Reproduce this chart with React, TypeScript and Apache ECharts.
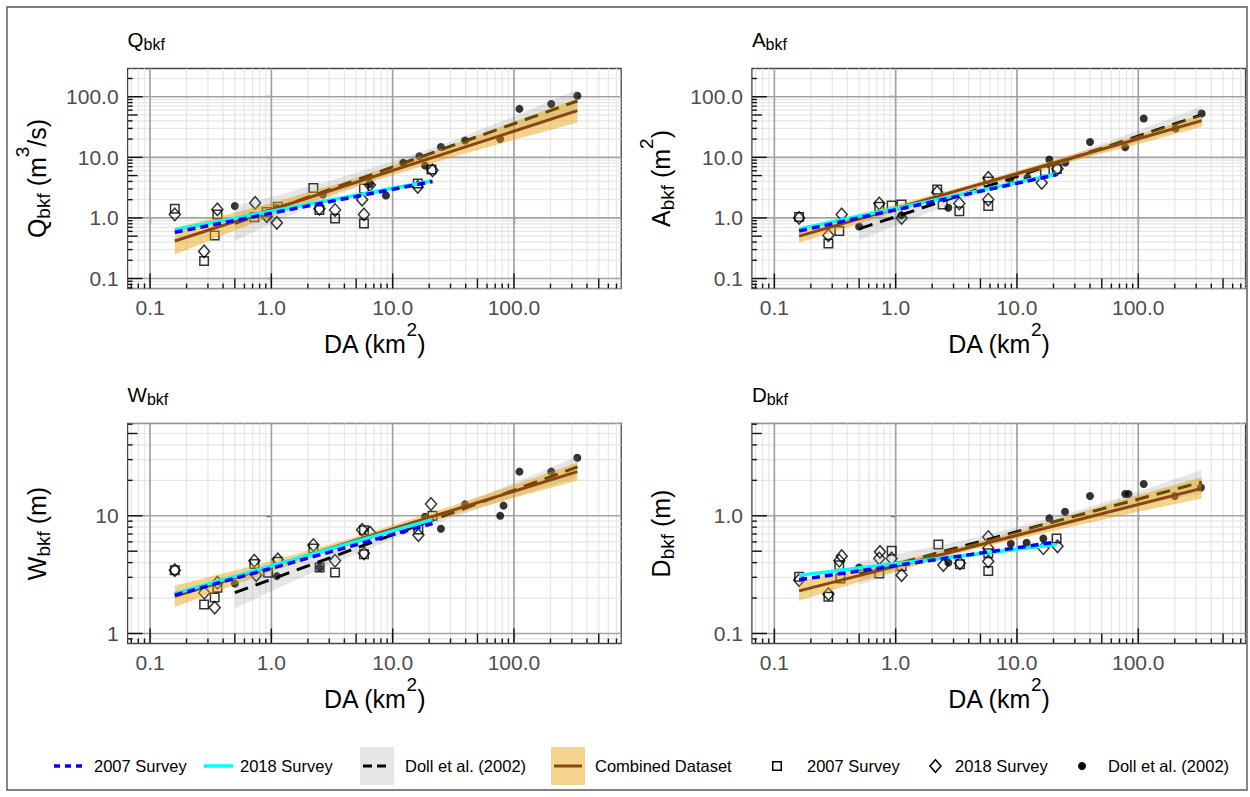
import React, { useEffect, useRef } from 'react';
import * as echarts from 'echarts';

const FONT = '"Liberation Sans", Arial, Helvetica, sans-serif';

// ---------------- axis limits & tick labels ----------------
const DA_LIMITS = [0.0653, 765.6];
const DA_TICKS = [0.1, 1, 10, 100];
const DA_TICK_LABELS = ['0.1', '1.0', '10.0', '100.0'];

const QA_LIMITS = [0.0684, 292.4];
const QA_TICKS = [0.1, 1, 10, 100];
const QA_TICK_LABELS = ['0.1', '1.0', '10.0', '100.0'];
const W_LIMITS = [0.822, 60.8];
const W_TICKS = [1, 10];
const W_TICK_LABELS = ['1', '10'];
const D_LIMITS = [0.0822, 6.08];
const D_TICKS = [0.1, 1];
const D_TICK_LABELS = ['0.1', '1.0'];

// ---------------- Q_bkf ----------------
const Q_2007 = [[0.16, 1.42], [0.279, 0.195], [0.341, 0.515], [0.359, 1.14], [0.724, 1.03], [0.916, 1.25], [1.13, 1.53], [2.22, 3.13], [2.49, 1.35], [3.35, 0.98], [5.8, 0.81], [5.8, 3.05], [16.1, 3.69], [20.9, 6.27]];
const Q_2018 = [[0.16, 1.14], [0.279, 0.28], [0.359, 1.38], [0.735, 1.77], [0.916, 1.07], [1.11, 0.83], [2.49, 1.41], [3.35, 1.35], [5.6, 2.0], [5.8, 1.14], [6.5, 3.5], [16.1, 3.25], [21.3, 6.1]];
const Q_DOLL = [[0.5, 1.57], [1.11, 1.45], [2.66, 2.43], [6.5, 3.6], [8.8, 2.34], [12.2, 8.1], [16.6, 10.4], [18.5, 7.3], [25, 14.8], [39.5, 19], [77, 20], [111, 63], [203, 76], [333, 104]];
const Q_FIT_2007 = [[0.16, 0.58], [21.3, 4.0]];
const Q_FIT_2018 = [[0.16, 0.64], [21.3, 4.1]];
const Q_FIT_DOLL = [[0.5, 0.81], [333, 85]];
const Q_FIT_ALL = [[0.16, 0.416], [333, 58.9]];
const Q_BAND_DOLL = [[0.5, 0.417, 1.585], [1, 0.8, 2.21], [3, 2.12, 4.05], [10, 5.62, 8.51], [30, 12.6, 18.3], [100, 27.3, 47.4], [333, 55, 132]];
const Q_BAND_ALL = [[0.16, 0.25, 0.69], [0.5, 0.62, 1.23], [1, 1.06, 1.76], [4, 2.85, 3.94], [10, 5.05, 7.3], [30, 9.8, 15.8], [100, 19.5, 38.5], [333, 37.1, 93.1]];

// ---------------- A_bkf ----------------
const A_2007 = [[0.16, 1.04], [0.279, 0.38], [0.343, 0.61], [0.733, 1.53], [0.927, 1.6], [1.12, 1.67], [2.2, 2.94], [2.44, 1.67], [3.35, 1.29], [5.8, 1.57], [5.8, 4.0], [17, 5.9], [21.3, 6.4]];
const A_2018 = [[0.16, 1.0], [0.279, 0.515], [0.359, 1.14], [0.733, 1.73], [1.12, 1.0], [2.2, 2.66], [3.35, 1.73], [5.8, 4.57], [5.8, 2.01], [16, 3.79], [21.6, 6.5]];
const A_DOLL = [[0.5, 0.72], [1.11, 1.1], [2.72, 1.47], [8.8, 4.3], [12.2, 4.6], [18.5, 9.2], [25, 8.2], [40, 17.9], [78, 14.7], [111, 43.6], [203, 30], [333, 53]];
const A_FIT_2007 = [[0.16, 0.61], [21.3, 5.18]];
const A_FIT_2018 = [[0.16, 0.66], [21.3, 5.3]];
const A_FIT_DOLL = [[0.5, 0.66], [333, 50]];
const A_FIT_ALL = [[0.16, 0.5], [333, 40.4]];
const A_BAND_DOLL = [[0.5, 0.43, 1.03], [1, 0.745, 1.49], [3, 1.77, 2.69], [10, 4.24, 5.58], [30, 8.79, 11.6], [100, 18.3, 27.7], [333, 36.3, 69.2]];
const A_BAND_ALL = [[0.16, 0.39, 0.647], [0.5, 0.8, 1.16], [1, 1.25, 1.65], [4, 2.9, 3.49], [10, 4.86, 5.98], [30, 8.91, 11.5], [100, 16.4, 23.2], [333, 32.1, 50.8]];

// ---------------- W_bkf ----------------
const W_2007 = [[0.16, 3.45], [0.279, 1.76], [0.341, 2.02], [0.359, 2.45], [0.724, 3.9], [0.94, 3.28], [1.13, 4.07], [2.22, 5.27], [2.5, 3.64], [3.35, 3.3], [5.8, 7.55], [5.8, 4.72], [16.3, 7.65], [21.3, 10.0]];
const W_2018 = [[0.16, 3.45], [0.28, 2.22], [0.341, 1.66], [0.359, 2.7], [0.724, 4.15], [0.75, 3.13], [1.13, 4.26], [2.22, 5.64], [3.35, 4.15], [5.6, 7.6], [5.8, 4.8], [6.5, 7.2], [16.3, 6.85], [20.7, 12.6]];
const W_DOLL = [[0.5, 2.66], [1.11, 3.07], [2.5, 3.64], [12.2, 7.55], [18.5, 9.8], [25, 7.76], [39.5, 12.5], [77, 10], [82, 12.2], [111, 23.7], [203, 23.7], [333, 31.1]];
const W_FIT_2007 = [[0.16, 2.12], [21.3, 8.6]];
const W_FIT_2018 = [[0.16, 2.18], [21.3, 9.3]];
const W_FIT_DOLL = [[0.5, 2.22], [333, 26]];
const W_FIT_ALL = [[0.16, 2.07], [333, 23.7]];
const W_BAND_DOLL = [[0.5, 1.63, 3.03], [1, 2.29, 3.63], [3, 3.81, 5.02], [10, 6.31, 7.59], [30, 9.55, 11.5], [100, 14.4, 19.0], [333, 21.2, 32.1]];
const W_BAND_ALL = [[0.16, 1.68, 2.56], [0.5, 2.6, 3.43], [1, 3.36, 4.13], [4, 5.43, 6.18], [10, 7.23, 8.3], [30, 10.0, 12.05], [100, 14.2, 18.3], [333, 19.8, 28.3]];

// ---------------- D_bkf ----------------
const D_2007 = [[0.16, 0.303], [0.279, 0.205], [0.343, 0.38], [0.35, 0.293], [0.733, 0.324], [0.927, 0.504], [1.12, 0.373], [2.25, 0.57], [3.39, 0.388], [5.8, 0.34], [5.8, 0.48], [21.2, 0.64]];
const D_2018 = [[0.16, 0.284], [0.279, 0.216], [0.343, 0.415], [0.359, 0.454], [0.743, 0.494], [0.733, 0.434], [0.927, 0.434], [1.12, 0.313], [2.47, 0.381], [3.39, 0.395], [5.8, 0.66], [5.8, 0.53], [5.8, 0.41], [16.5, 0.53], [21.6, 0.55]];
const D_DOLL = [[0.5, 0.363], [2.72, 0.4], [8.9, 0.58], [12, 0.59], [16.5, 0.64], [18.5, 0.95], [24.9, 1.08], [40, 1.47], [78, 1.53], [83, 1.53], [111, 1.86], [200, 1.47], [328, 1.74]];
const D_FIT_2007 = [[0.16, 0.286], [21.3, 0.6]];
const D_FIT_2018 = [[0.16, 0.313], [21.3, 0.57]];
const D_FIT_DOLL = [[0.5, 0.32], [333, 1.93]];
const D_FIT_ALL = [[0.16, 0.23], [333, 1.71]];
const D_BAND_DOLL = [[0.5, 0.257, 0.407], [1, 0.331, 0.468], [3, 0.483, 0.594], [10, 0.69, 0.8], [30, 0.93, 1.09], [100, 1.22, 1.6], [333, 1.55, 2.45]];
const D_BAND_ALL = [[0.16, 0.19, 0.281], [0.5, 0.274, 0.353], [1, 0.34, 0.409], [4, 0.506, 0.57], [10, 0.633, 0.74], [30, 0.82, 1.04], [100, 1.08, 1.5], [333, 1.40, 2.12]];

// ---------------- legend labels ----------------
const LEGEND_LINES = ['2007 Survey', '2018 Survey', 'Doll et al. (2002)', 'Combined Dataset'];
const LEGEND_POINTS = ['2007 Survey', '2018 Survey', 'Doll et al. (2002)'];

// ---------------- style ----------------
const C_2007 = '#0000FF';
const C_2018 = '#00FFFF';
const C_DOLL = '#000000';
const C_ALL = '#8B4513';
const F_DOLL = 'rgba(128,128,128,0.2)';
const F_ALL = 'rgba(230,159,0,0.45)';
const GRID_W = 493.6;
const GRID_H = 220;

const PANELS = [
  { t: 'Q', yName: '{a|Q}{s|bkf}{a| (m}{p|3}{a|/s)}', limits: QA_LIMITS, ticks: QA_TICKS, labels: QA_TICK_LABELS, s07: Q_2007, s18: Q_2018, doll: Q_DOLL, f07: Q_FIT_2007, f18: Q_FIT_2018, fDoll: Q_FIT_DOLL, fAll: Q_FIT_ALL, bDoll: Q_BAND_DOLL, bAll: Q_BAND_ALL, left: 127.6, top: 68.5 },
  { t: 'A', yName: '{a|A}{s|bkf}{a| (m}{p|2}{a|)}', limits: QA_LIMITS, ticks: QA_TICKS, labels: QA_TICK_LABELS, s07: A_2007, s18: A_2018, doll: A_DOLL, f07: A_FIT_2007, f18: A_FIT_2018, fDoll: A_FIT_DOLL, fAll: A_FIT_ALL, bDoll: A_BAND_DOLL, bAll: A_BAND_ALL, left: 751.9, top: 68.5 },
  { t: 'W', yName: '{a|W}{s|bkf}{a| (m)}', limits: W_LIMITS, ticks: W_TICKS, labels: W_TICK_LABELS, s07: W_2007, s18: W_2018, doll: W_DOLL, f07: W_FIT_2007, f18: W_FIT_2018, fDoll: W_FIT_DOLL, fAll: W_FIT_ALL, bDoll: W_BAND_DOLL, bAll: W_BAND_ALL, left: 127.6, top: 423.5 },
  { t: 'D', yName: '{a|D}{s|bkf}{a| (m)}', limits: D_LIMITS, ticks: D_TICKS, labels: D_TICK_LABELS, s07: D_2007, s18: D_2018, doll: D_DOLL, f07: D_FIT_2007, f18: D_FIT_2018, fDoll: D_FIT_DOLL, fAll: D_FIT_ALL, bDoll: D_BAND_DOLL, bAll: D_BAND_ALL, left: 751.9, top: 423.5 },
];

const L = (v: number) => Math.log10(v);

function logGrid(limits: number[]) {
  const lo = L(limits[0]);
  const hi = L(limits[1]);
  const out: { v: number; m: number }[] = [];
  for (let e = Math.floor(lo); e <= Math.ceil(hi); e++) {
    for (let m = 1; m <= 9; m++) {
      const v = e + L(m);
      if (v >= lo && v <= hi) out.push({ v, m });
    }
  }
  return out;
}

const tickLen = (m: number) => (m === 1 ? 15 : m === 5 ? 10 : 5);

const fmt = (ticks: number[], labels: string[]) => (v: number) => {
  const i = ticks.findIndex((t) => Math.abs(L(t) - v) < 1e-6);
  return i >= 0 ? labels[i] : '';
};

const nameRich = {
  a: { fontSize: 25, lineHeight: 48, fontFamily: FONT, fontWeight: 'normal', color: '#000' },
  s: { fontSize: 19, lineHeight: 20, verticalAlign: 'bottom', padding: [0, 0, 8, 0], fontFamily: FONT, fontWeight: 'normal', color: '#000' },
  p: { fontSize: 19, lineHeight: 20, verticalAlign: 'top', fontFamily: FONT, fontWeight: 'normal', color: '#000' },
};

const titleRich = {
  a: { fontSize: 20.5, lineHeight: 26, fontFamily: FONT, fontWeight: 'normal', color: '#000' },
  s: { fontSize: 16, lineHeight: 14, verticalAlign: 'bottom', fontFamily: FONT, fontWeight: 'normal', color: '#000' },
};

function decoSeries(i: number, items: number[][], xRef: number, yRef: number, z: number, isTicks: boolean) {
  return {
    type: 'custom',
    xAxisIndex: i,
    yAxisIndex: i,
    z,
    silent: true,
    clip: false,
    data: items,
    renderItem: (params: any, api: any) => {
      const cs = params.coordSys;
      const v = api.value(0);
      const o = api.value(1);
      const k = api.value(2);
      if (isTicks) {
        const st = { stroke: '#111', lineWidth: 1.4 };
        if (o === 0) {
          const x = api.coord([v, yRef])[0];
          const yb = cs.y + cs.height;
          return { type: 'line', shape: { x1: x, y1: yb, x2: x, y2: yb - k }, style: st };
        }
        const y = api.coord([xRef, v])[1];
        return { type: 'line', shape: { x1: cs.x, y1: y, x2: cs.x + k, y2: y }, style: st };
      }
      const style = k === 1 ? { stroke: '#A3A3A3', lineWidth: 1.7 } : { stroke: '#E6E6E6', lineWidth: 1.2 };
      if (o === 0) {
        const x = api.coord([v, yRef])[0];
        return { type: 'line', shape: { x1: x, y1: cs.y, x2: x, y2: cs.y + cs.height }, style };
      }
      const y = api.coord([xRef, v])[1];
      return { type: 'line', shape: { x1: cs.x, y1: y, x2: cs.x + cs.width, y2: y }, style };
    },
  };
}

function bandSeries(i: number, band: number[][], fill: string, z: number) {
  return {
    type: 'custom',
    xAxisIndex: i,
    yAxisIndex: i,
    z,
    silent: true,
    data: [[L(band[0][0]), L(band[0][1])]],
    renderItem: (_p: any, api: any) => {
      const upper = band.map((r) => api.coord([L(r[0]), L(r[2])]));
      const lower = band.map((r) => api.coord([L(r[0]), L(r[1])])).reverse();
      return { type: 'polygon', shape: { points: upper.concat(lower) }, style: { fill } };
    },
  };
}

const toLog = (arr: number[][]) => arr.map((r) => [L(r[0]), L(r[1])]);

function lineSeries(i: number, pts: number[][], color: string, width: number, dash: any, z: number) {
  return {
    type: 'line',
    xAxisIndex: i,
    yAxisIndex: i,
    z,
    silent: true,
    symbol: 'none',
    data: toLog(pts),
    lineStyle: { color, width, type: dash, cap: 'butt' },
  };
}

function scatterSeries(i: number, pts: number[][], kind: number) {
  const base: any = { type: 'scatter', xAxisIndex: i, yAxisIndex: i, z: 2, silent: true, data: toLog(pts) };
  if (kind === 0) {
    base.symbol = 'rect';
    base.symbolSize = 8.5;
    base.itemStyle = { color: 'rgba(0,0,0,0)', borderColor: '#000', borderWidth: 1.5 };
  } else if (kind === 1) {
    base.symbol = 'diamond';
    base.symbolSize = [11, 12.5];
    base.itemStyle = { color: 'rgba(0,0,0,0)', borderColor: '#000', borderWidth: 1.5 };
  } else {
    base.symbol = 'circle';
    base.symbolSize = 8;
    base.itemStyle = { color: '#000' };
  }
  return base;
}

function buildOption() {
  const grids: any[] = [];
  const xAxes: any[] = [];
  const yAxes: any[] = [];
  const series: any[] = [];
  const titles: any[] = [];
  const xr = [L(DA_LIMITS[0]), L(DA_LIMITS[1])];
  PANELS.forEach((p, i) => {
    const yr = [L(p.limits[0]), L(p.limits[1])];
    grids.push({ left: p.left, top: p.top, width: GRID_W, height: GRID_H, show: true, backgroundColor: '#fff', borderColor: '#444', borderWidth: 1.3 });
    xAxes.push({
      type: 'value', gridIndex: i, min: xr[0], max: xr[1],
      axisLine: { show: false }, splitLine: { show: false },
      axisTick: { show: true, customValues: DA_TICKS.map(L), length: 5, lineStyle: { color: '#333', width: 1.3 } },
      axisLabel: { customValues: DA_TICKS.map(L), formatter: fmt(DA_TICKS, DA_TICK_LABELS), fontSize: 21, color: '#4D4D4D', fontFamily: FONT, margin: 8 },
      name: '{a|DA (km}{p|2}{a|)}', nameLocation: 'middle', nameGap: 31, nameTextStyle: { rich: nameRich },
    });
    yAxes.push({
      type: 'value', gridIndex: i, min: yr[0], max: yr[1],
      axisLine: { show: false }, splitLine: { show: false },
      axisTick: { show: true, customValues: p.ticks.map(L), length: 5, lineStyle: { color: '#333', width: 1.3 } },
      axisLabel: { customValues: p.ticks.map(L), formatter: fmt(p.ticks, p.labels), fontSize: 21, color: '#4D4D4D', fontFamily: FONT, margin: 9 },
      name: p.yName, nameLocation: 'middle', nameRotate: 90, nameGap: 67, nameTextStyle: { rich: nameRich },
    });
    titles.push({ text: '{a|' + p.t + '}{s|bkf}', left: p.left, top: p.top - 42.5, padding: 0, textStyle: { fontWeight: 'normal', rich: titleRich } });

    const xRef = (xr[0] + xr[1]) / 2;
    const yRef = (yr[0] + yr[1]) / 2;
    const gx = logGrid(DA_LIMITS);
    const gy = logGrid(p.limits);
    const gridItems = [
      ...gx.filter((g) => g.m !== 1).map((g) => [g.v, 0, 0]),
      ...gy.filter((g) => g.m !== 1).map((g) => [g.v, 1, 0]),
      ...gx.filter((g) => g.m === 1).map((g) => [g.v, 0, 1]),
      ...gy.filter((g) => g.m === 1).map((g) => [g.v, 1, 1]),
    ];
    const tickItems = [...gx.map((g) => [g.v, 0, tickLen(g.m)]), ...gy.map((g) => [g.v, 1, tickLen(g.m)])];

    series.push(decoSeries(i, gridItems, xRef, yRef, 1, false));
    series.push(scatterSeries(i, p.s07, 0));
    series.push(scatterSeries(i, p.s18, 1));
    series.push(scatterSeries(i, p.doll, 2));
    series.push(bandSeries(i, p.bDoll, F_DOLL, 3));
    series.push(lineSeries(i, p.fDoll, C_DOLL, 3, [14, 8], 4));
    series.push(bandSeries(i, p.bAll, F_ALL, 5));
    series.push(lineSeries(i, p.fAll, C_ALL, 3, 'solid', 6));
    series.push(lineSeries(i, p.f18, C_2018, 3.5, 'solid', 7));
    series.push(lineSeries(i, p.f07, C_2007, 3.5, [8, 5], 8));
    series.push(decoSeries(i, tickItems, xRef, yRef, 9, true));
  });

  const LY = 766;
  const txt = (text: string, x: number) => ({
    type: 'text', x, y: LY, style: { text, fontSize: 16.5, fontFamily: FONT, fill: '#000', verticalAlign: 'middle', align: 'left' },
  });
  const graphic = [
    { type: 'rect', shape: { x: 7, y: 7, width: 1240, height: 783 }, style: { fill: 'none', stroke: '#555', lineWidth: 1.4 }, z: -1 },
    { type: 'line', shape: { x1: 54, y1: LY, x2: 84, y2: LY }, style: { stroke: C_2007, lineWidth: 3.5, lineDash: [6, 5] } },
    txt(LEGEND_LINES[0], 94),
    { type: 'line', shape: { x1: 204, y1: LY, x2: 233, y2: LY }, style: { stroke: C_2018, lineWidth: 3.5 } },
    txt(LEGEND_LINES[1], 240),
    { type: 'rect', shape: { x: 360, y: LY - 19, width: 34, height: 38 }, style: { fill: F_DOLL } },
    { type: 'line', shape: { x1: 363, y1: LY, x2: 391, y2: LY }, style: { stroke: C_DOLL, lineWidth: 3, lineDash: [9, 5] } },
    txt(LEGEND_LINES[2], 405),
    { type: 'rect', shape: { x: 551, y: LY - 19, width: 34, height: 38 }, style: { fill: F_ALL } },
    { type: 'line', shape: { x1: 554, y1: LY, x2: 582, y2: LY }, style: { stroke: C_ALL, lineWidth: 3 } },
    txt(LEGEND_LINES[3], 595),
    { type: 'rect', shape: { x: 772.75, y: LY - 4.25, width: 8.5, height: 8.5 }, style: { fill: 'none', stroke: '#000', lineWidth: 1.5 } },
    txt(LEGEND_POINTS[0], 807),
    { type: 'polygon', shape: { points: [[935.5, LY - 6.25], [941, LY], [935.5, LY + 6.25], [930, LY]] }, style: { fill: 'none', stroke: '#000', lineWidth: 1.5 } },
    txt(LEGEND_POINTS[1], 955),
    { type: 'circle', shape: { cx: 1082, cy: LY, r: 4 }, style: { fill: '#000' } },
    txt(LEGEND_POINTS[2], 1108),
  ];

  return {
    animation: false,
    backgroundColor: '#fff',
    textStyle: { fontFamily: FONT },
    title: titles,
    grid: grids,
    xAxis: xAxes,
    yAxis: yAxes,
    series,
    graphic,
  };
}

export default function App() {
  const ref = useRef<HTMLDivElement>(null);
  useEffect(() => {
    if (!ref.current) return;
    const chart = echarts.init(ref.current, null, { renderer: 'svg' });
    chart.setOption(buildOption() as any);
    return () => chart.dispose();
  }, []);
  return <div ref={ref} style={{ position: 'absolute', left: 0, top: 0, width: 1250, height: 797, background: '#fff' }} />;
}
